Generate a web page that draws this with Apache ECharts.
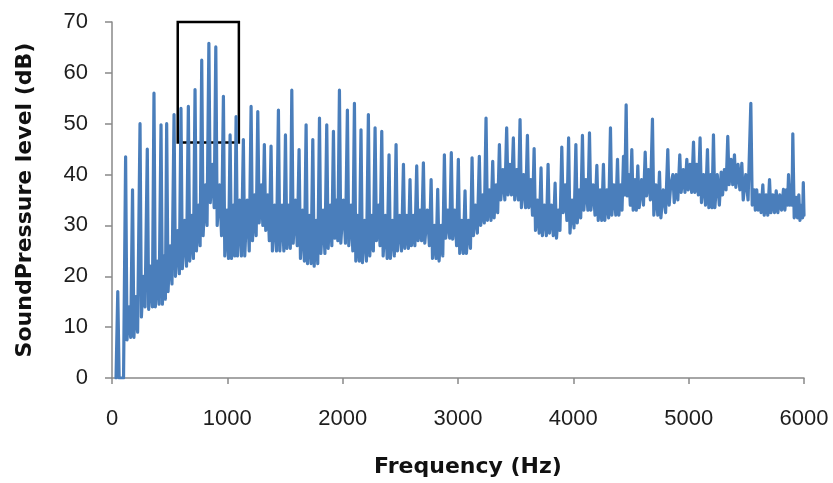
<!DOCTYPE html>
<html>
<head>
<meta charset="utf-8">
<script src="https://cdn.jsdelivr.net/npm/echarts@6/dist/echarts.min.js"></script>
<style>
html,body{margin:0;padding:0;background:#fff;}
#chart{width:833px;height:483px;}
</style>
</head>
<body>
<div id="chart"></div>
<script>
// Frequency (Hz) of each sample
var freqHz = [
35,50,62,100,
118,130,146,162, 178,190,206,222, 243,255,271,287, 306,318,334,350, 364,376,392,408,
425,437,451,463, 474,486,504,520, 538,550,568,584, 598,610,630,646, 662,674,692,706,
720,732,750,764, 778,790,810,824, 840,852,870,886, 900,912,932,950, 966,978,996,1010,
1024,1036,1052,1064, 1076,1088,1106,1122, 1139,1151,1172,1190, 1206,1218,1236,1250, 1264,1276,1294,1308,
1321,1333,1350,1364, 1379,1391,1410,1426, 1443,1455,1474,1490, 1504,1516,1532,1546, 1559,1571,1590,1606,
1622,1634,1652,1668, 1683,1695,1712,1726, 1741,1753,1770,1784, 1799,1811,1830,1846, 1862,1874,1892,1906,
1920,1932,1946,1958, 1972,1984,2006,2024, 2041,2053,2072,2088, 2102,2114,2130,2144, 2159,2171,2190,2206,
2223,2235,2252,2266, 2281,2293,2310,2324, 2339,2351,2370,2386, 2402,2414,2432,2448, 2463,2475,2494,2510,
2527,2539,2556,2570, 2584,2596,2612,2626, 2642,2654,2670,2684, 2700,2712,2734,2752, 2767,2779,2796,2810,
2824,2836,2854,2868, 2882,2894,2912,2928, 2942,2954,2972,2988, 3003,3015,3032,3046, 3061,3073,3092,3108,
3122,3134,3152,3168, 3185,3197,3214,3228, 3243,3255,3272,3286, 3301,3313,3330,3344, 3359,3371,3390,3406,
3422,3434,3450,3464, 3480,3492,3510,3524, 3538,3550,3570,3586, 3602,3614,3632,3646, 3660,3672,3690,3704,
3720,3732,3750,3766, 3781,3793,3810,3826, 3842,3854,3870,3884, 3900,3912,3930,3944, 3959,3971,3990,4006,
4022,4034,4050,4064, 4079,4091,4110,4126, 4140,4152,4172,4188, 4204,4216,4232,4246, 4261,4273,4292,4306,
4322,4334,4352,4368, 4383,4395,4410,4422, 4435,4446, 4458,4468,4482,4494, 4507,4519,4534,4546,
4559,4571,4592,4608, 4623,4635,4652,4668, 4686,4698,4716,4732, 4747,4759,4780,4800, 4819,4831,4845,
4863,4875,4892,4906, 4923,4935,4954,4968, 4984,4996,5012,5026, 5042,5054,5070,5084, 5099,5111,5130,5146,
5163,5175,5190,5202, 5215,5227,5248,5266, 5282,5294,5310,5324, 5339,5351,5368,5382, 5397,5409,5428,5444,
5461,5473,5495,5515, 5539,5551,5568,5578, 5590,5602,5616,5628, 5643,5655,5672,5686, 5701,5713,5730,5744,
5759,5773,5790,5805, 5822,5834,5848,5857, 5866,5878,5890,5896, 5903,5915,5932,5944, 5955,5965,5980,5988,
5994,6000];

// Sound pressure level (dB) at each sample
var levelDb = [
0,17,0,0,
43.5,7.5,14,8, 37,8,16,9, 50,12,20,14, 45,13.5,22,14, 56,14,23,14.5,
49.8,14.5,24,15.5, 50,17,26,18.5, 51.8,20,29,20.5, 53,21.5,31,22, 53.4,23,32,23.5,
56.7,25,34,26, 62.5,28,38,30, 65.8,34.5,42,33.5, 65.1,30,38,28, 55.4,24,33,23.5,
47.8,23.5,34,24, 51.4,24,35,24, 46.9,24,35,25, 53.4,27,36,28, 52.4,30.5,38,30,
45.9,29,36,27, 45.6,25,34,25, 52.7,25,34,25, 47.8,25.5,34,25.5, 56.6,26.5,35,26,
44.9,23.5,33,23, 49.8,22.5,32,22.5, 46.9,22,31,22.5, 51.1,24.5,33,24.5, 49.8,25.5,34,26,
48.5,27.5,35,27, 56.6,26.5,35,26.5, 52.7,26,34,25, 54,23,32,23, 48.8,22.7,31,23,
51.8,24,32,25, 49.2,27,34,26, 48.5,24,32,23.5, 43.9,23.5,31,24, 45.9,25,32,25,
42,25.5,32,25.5, 39,26,32,26, 41.7,27,33,27, 42.3,26.5,33,26, 39,23.5,30,23.5,
37.1,23,30,24, 43.9,27.5,33,27.5, 44.3,27.3,33,26, 43,24.5,31,24.5, 36.8,24.5,31,25.5,
43.3,28,34,28.5, 43.6,30,36,30.5, 51.1,31,37,31, 42.6,31.5,38,32.5, 45.9,35,41,35,
49.2,36,42,36, 47.2,35,41,35, 50.8,33.5,40,33.5, 47.7,33.5,39,32, 45.1,29,35,28.5,
41.3,28,34,28, 42,28.5,34,28, 38.3,27.5,33,29, 45.4,32.5,38,31, 47.2,28.5,35,29.5,
45.9,30.5,37,31.5, 47.7,33,39,33, 48.2,33,38,32, 41.8,31,37,31, 42,31,37,31.5,
49.2,32,38,32, 43,32,38,33, 43.6,36, 53.7,35.8,40,34, 44.9,33,39,33,
41.7,33.5,39,34, 44.4,35.8,41,35, 50.9,32,38,32, 40.5,31.5,37,32.5, 44.9,34,38,
40,34.5,40,35, 43.9,36.5,41,36.5, 43,37,42,36.5, 46.4,36.5,42,36, 47.2,34.5,40,34,
44.9,33.5,40,33.5, 47.8,33.5,40,34, 40.5,36,41,37, 47.5,38,43,38, 43.9,37.5,42,37,
42.2,35,40,35, 54,34,37,33, 37,33,36,32.5, 38,32,36,32, 39,32.5,36,32.5,
36.8,32.5,36,33, 37.1,33,37,34, 40,34,38,34, 48,31.5,35.5,31.5, 36,31,34,31.5,
38.4,32];

// Highlighted region (box)
var boxFreq = [570, 1100];
var boxLevel = [46.3, 70];

var xTicks = [0,1000,2000,3000,4000,5000,6000];
var yTicks = [0,10,20,30,40,50,60,70];

var data = freqHz.map(function(f, i){ return [f, levelDb[i]]; });

var chart = echarts.init(document.getElementById('chart'), null, {renderer:'canvas'});
var axisGray = '#898989';
var tickFont = {fontFamily:'Liberation Sans', fontSize:22, color:'#1e1e1e'};
chart.setOption({
  animation:false,
  backgroundColor:'#ffffff',
  grid:{left:112, right:29, top:22, bottom:103},
  xAxis:{
    type:'value', min:xTicks[0], max:xTicks[xTicks.length-1], interval:1000,
    name:'Frequency (Hz)', nameLocation:'middle', nameGap:78,
    nameTextStyle:{fontFamily:'DejaVu Sans', fontWeight:'bold', fontSize:22, color:'#111', padding:[0,0,0,20]},
    axisLine:{show:true, lineStyle:{color:axisGray, width:1.5}},
    axisTick:{show:true, inside:false, length:6, lineStyle:{color:axisGray, width:1.5}},
    axisLabel:Object.assign({margin:30, formatter:function(v){return String(v);}}, tickFont),
    splitLine:{show:false}
  },
  yAxis:{
    type:'value', min:yTicks[0], max:yTicks[yTicks.length-1], interval:10,
    name:'SoundPressure level (dB)', nameLocation:'middle', nameGap:76, nameRotate:90,
    nameTextStyle:{fontFamily:'DejaVu Sans', fontWeight:'bold', fontSize:22, color:'#111'},
    axisLine:{show:true, lineStyle:{color:axisGray, width:1.5}},
    axisTick:{show:true, inside:false, length:7, lineStyle:{color:axisGray, width:1.5}},
    axisLabel:Object.assign({margin:24}, tickFont),
    splitLine:{show:false}
  },
  series:[{
    type:'line',
    data:data,
    showSymbol:false,
    symbol:'none',
    lineStyle:{color:'#4A7EBB', width:3.2, join:'round', cap:'round'},
    clip:true,
    markArea:{
      silent:true,
      itemStyle:{color:'rgba(0,0,0,0)', borderColor:'#000', borderWidth:2.5},
      data:[[{coord:[boxFreq[0], boxLevel[0]]},{coord:[boxFreq[1], boxLevel[1]]}]]
    }
  }]
});
</script>
</body>
</html>
